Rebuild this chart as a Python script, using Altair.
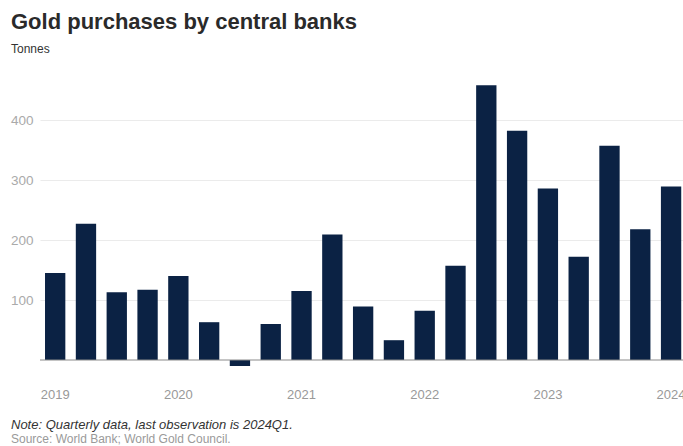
import altair as alt
import pandas as pd

quarters = [
    "2019Q1", "2019Q2", "2019Q3", "2019Q4",
    "2020Q1", "2020Q2", "2020Q3", "2020Q4",
    "2021Q1", "2021Q2", "2021Q3", "2021Q4",
    "2022Q1", "2022Q2", "2022Q3", "2022Q4",
    "2023Q1", "2023Q2", "2023Q3", "2023Q4",
    "2024Q1",
]
tonnes = [145, 227, 113, 117, 140, 63, -10, 60, 115, 209, 89, 33,
          82, 157, 458, 382, 286, 172, 357, 218, 289]
year_ticks = ["2019Q1", "2020Q1", "2021Q1", "2022Q1", "2023Q1", "2024Q1"]
y_ticks = [100, 200, 300, 400]

note_text = "Note: Quarterly data, last observation is 2024Q1."
source_text = "Source: World Bank; World Gold Council."

df = pd.DataFrame({"quarter": quarters, "tonnes": tonnes})

FONT = "Liberation Sans"
W, H = 643, 300

bars = alt.Chart(df).mark_bar(color="#0b2244").encode(
    x=alt.X(
        "quarter:O",
        sort=quarters,
        scale=alt.Scale(paddingInner=0.34, paddingOuter=0.11, align=0.74),
        axis=alt.Axis(
            title=None, values=year_ticks,
            labelExpr="slice(datum.value, 0, 4)",
            labelAngle=0, domain=False, ticks=False,
            labelPadding=16, labelFontSize=13, labelColor="#999999",
            labelFont=FONT, grid=False,
        ),
    ),
    y=alt.Y(
        "tonnes:Q",
        scale=alt.Scale(domain=[-20, 480], nice=False, zero=False),
        axis=alt.Axis(
            title=None, values=y_ticks, domain=False, ticks=False,
            labelPadding=7, labelFontSize=13.5, labelColor="#aaaaaa",
            labelFont=FONT, gridColor="#ebebeb", gridWidth=1,
        ),
    ),
)

baseline = alt.Chart(pd.DataFrame({"v": [0]})).mark_rule(
    color="#8a8a8a", strokeWidth=1
).encode(y="v:Q")

note = alt.Chart(pd.DataFrame({"t": [note_text]})).mark_text(
    align="left", baseline="alphabetic", font=FONT, fontSize=13,
    fontStyle="italic", color="#333333",
).encode(text="t:N", x=alt.value(-29), y=alt.value(356.5))

source = alt.Chart(pd.DataFrame({"t": [source_text]})).mark_text(
    align="left", baseline="alphabetic", font=FONT, fontSize=12,
    color="#9a9a9a",
).encode(text="t:N", x=alt.value(-29), y=alt.value(371))

chart = alt.layer(bars, baseline, note, source).properties(
    width=W, height=H,
    background="white",
    autosize=alt.AutoSizeParams(type="none"),
    padding={"left": 40, "top": 72, "right": 0, "bottom": 74},
    title=alt.Title(
        "Gold purchases by central banks",
        subtitle="Tonnes",
        anchor="start", frame="group", dx=-29, offset=16,
        font=FONT, fontSize=22, fontWeight="bold", color="#2a2a2a",
        subtitleFont=FONT, subtitleFontSize=12, subtitleColor="#333333",
        subtitlePadding=10,
    ),
).configure_view(stroke=None, strokeWidth=0)

chart.save("out.html", embed_options={"renderer": "svg", "actions": False})
